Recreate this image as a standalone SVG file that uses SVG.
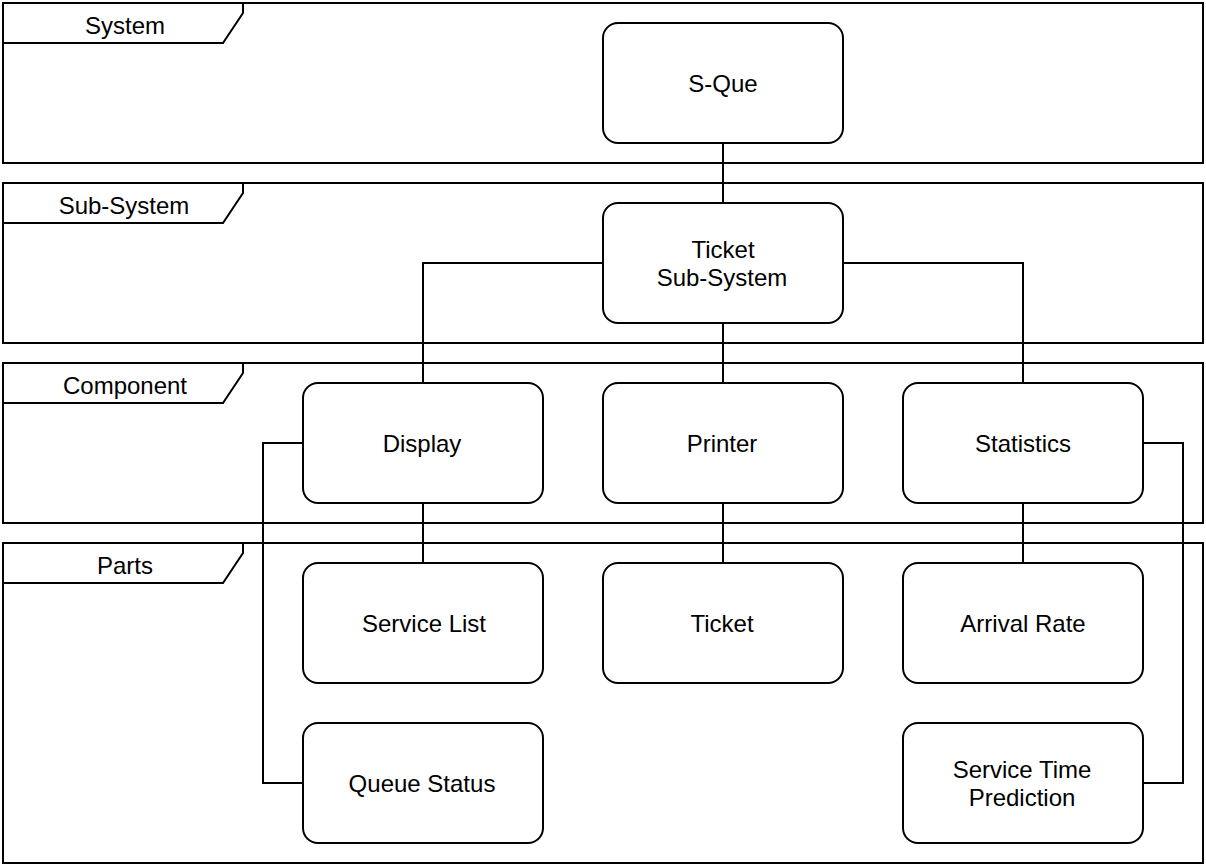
<svg xmlns="http://www.w3.org/2000/svg" width="1206" height="866" viewBox="0 0 1206 866">
<style>
.frame{fill:none;stroke:#000;stroke-width:2}
.tab{fill:#fff;stroke:#000;stroke-width:2}
.node rect{fill:#fff;stroke:#000;stroke-width:2}
text{font-family:"Liberation Sans",Arial,sans-serif;font-size:24px;fill:#000;text-anchor:middle;dominant-baseline:central}
.conn path{fill:none;stroke:#000;stroke-width:2}
</style>
<rect width="1206" height="866" fill="#fff"/>
<g id="frame-system">
<rect class="frame" x="3" y="3" width="1200" height="160"/>
<path class="tab" d="M3,3 H243 V13 L223,43 H3 Z"/>
<text x="125" y="25">System</text>
</g>
<g id="frame-subsystem">
<rect class="frame" x="3" y="183" width="1200" height="160"/>
<path class="tab" d="M3,183 H243 V193 L223,223 H3 Z"/>
<text x="124" y="205">Sub-System</text>
</g>
<g id="frame-component">
<rect class="frame" x="3" y="363" width="1200" height="160"/>
<path class="tab" d="M3,363 H243 V373 L223,403 H3 Z"/>
<text x="125" y="385">Component</text>
</g>
<g id="frame-parts">
<rect class="frame" x="3" y="543" width="1200" height="320"/>
<path class="tab" d="M3,543 H243 V553 L223,583 H3 Z"/>
<text x="125" y="565">Parts</text>
</g>
<g class="conn" id="connectors">
<path d="M723,143 V203"/>
<path d="M603,263 H423 V383"/>
<path d="M843,263 H1023 V383"/>
<path d="M723,323 V383"/>
<path d="M423,503 V563"/>
<path d="M723,503 V563"/>
<path d="M1023,503 V563"/>
<path d="M303,443 H263 V783 H303"/>
<path d="M1143,443 H1183 V783 H1143"/>
</g>
<g class="node" id="n-sque"><rect x="603" y="23" width="240" height="120" rx="15"/><text x="723" y="83">S-Que</text></g>
<g class="node" id="n-ticketsub"><rect x="603" y="203" width="240" height="120" rx="15"/><text x="723" y="249">Ticket</text><text x="722" y="277">Sub-System</text></g>
<g class="node" id="n-display"><rect x="303" y="383" width="240" height="120" rx="15"/><text x="422" y="443">Display</text></g>
<g class="node" id="n-printer"><rect x="603" y="383" width="240" height="120" rx="15"/><text x="722" y="443">Printer</text></g>
<g class="node" id="n-statistics"><rect x="903" y="383" width="240" height="120" rx="15"/><text x="1023" y="443">Statistics</text></g>
<g class="node" id="n-servicelist"><rect x="303" y="563" width="240" height="120" rx="15"/><text x="424" y="623">Service List</text></g>
<g class="node" id="n-ticket"><rect x="603" y="563" width="240" height="120" rx="15"/><text x="722" y="623">Ticket</text></g>
<g class="node" id="n-arrival"><rect x="903" y="563" width="240" height="120" rx="15"/><text x="1023" y="623">Arrival Rate</text></g>
<g class="node" id="n-queuestatus"><rect x="303" y="723" width="240" height="120" rx="15"/><text x="422" y="783">Queue Status</text></g>
<g class="node" id="n-stp"><rect x="903" y="723" width="240" height="120" rx="15"/><text x="1022" y="769">Service Time</text><text x="1022" y="797">Prediction</text></g>
</svg>
